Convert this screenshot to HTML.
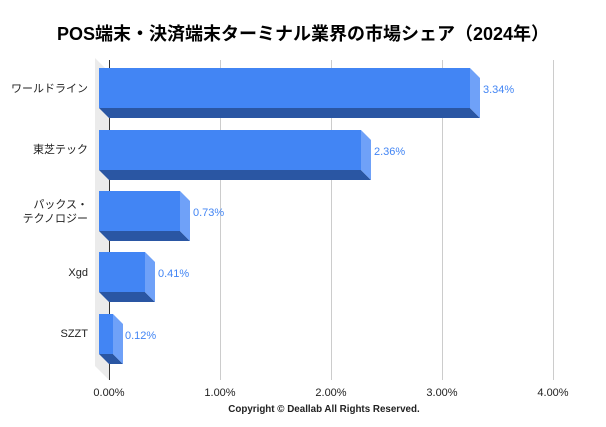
<!DOCTYPE html>
<html><head><meta charset="utf-8"><style>
body{margin:0;background:#fff;}
svg text{font-family:"Liberation Sans","Noto Sans CJK JP",sans-serif;}
</style></head><body>
<svg width="606" height="422" xmlns="http://www.w3.org/2000/svg">
<rect width="606" height="422" fill="#fff"/>
<text x="303" y="40" text-anchor="middle" font-size="18" font-weight="bold" fill="#000">POS端末・決済端末ターミナル業界の市場シェア（2024年）</text>
<polygon points="95,58 109,72 109,380 95,366" fill="#ebebeb"/>
<g stroke="#ccc" stroke-width="1">
<line x1="220.5" y1="60" x2="220.5" y2="380"/>
<line x1="331.5" y1="60" x2="331.5" y2="380"/>
<line x1="442.5" y1="60" x2="442.5" y2="380"/>
<line x1="553.5" y1="60" x2="553.5" y2="380"/>
</g>
<line x1="109.5" y1="60" x2="109.5" y2="380" stroke="#333" stroke-width="1"/>
<g id="bars">
<polygon points="99,108 470,108 480,118 109,118" fill="#2a56a3"/>
<polygon points="470,68 480,78 480,118 470,108" fill="#6fa1f8"/>
<rect x="99" y="68" width="371" height="40" fill="#4285f4"/>
<polygon points="99,170 361,170 371,180 109,180" fill="#2a56a3"/>
<polygon points="361,130 371,140 371,180 361,170" fill="#6fa1f8"/>
<rect x="99" y="130" width="262" height="40" fill="#4285f4"/>
<polygon points="99,231 180,231 190,241 109,241" fill="#2a56a3"/>
<polygon points="180,191 190,201 190,241 180,231" fill="#6fa1f8"/>
<rect x="99" y="191" width="81" height="40" fill="#4285f4"/>
<polygon points="99,292 145,292 155,302 109,302" fill="#2a56a3"/>
<polygon points="145,252 155,262 155,302 145,292" fill="#6fa1f8"/>
<rect x="99" y="252" width="46" height="40" fill="#4285f4"/>
<polygon points="99,354 113,354 123,364 109,364" fill="#2a56a3"/>
<polygon points="113,314 123,324 123,364 113,354" fill="#6fa1f8"/>
<rect x="99" y="314" width="14" height="40" fill="#4285f4"/>
</g>
<g font-size="11" fill="#4285f4">
<text x="483" y="93">3.34%</text>
<text x="374" y="155">2.36%</text>
<text x="193" y="216">0.73%</text>
<text x="158" y="277">0.41%</text>
<text x="125" y="339">0.12%</text>
</g>
<g font-size="11" fill="#222" text-anchor="end">
<text x="88" y="92">ワールドライン</text>
<text x="88" y="153">東芝テック</text>
<text x="88" y="208">パックス・</text>
<text x="88" y="222">テクノロジー</text>
<text x="88" y="276">Xgd</text>
<text x="88" y="337">SZZT</text>
</g>
<g font-size="11" fill="#222" text-anchor="middle">
<text x="109" y="396">0.00%</text>
<text x="220" y="396">1.00%</text>
<text x="331" y="396">2.00%</text>
<text x="442" y="396">3.00%</text>
<text x="553" y="396">4.00%</text>
</g>
<text x="324" y="412" text-anchor="middle" font-size="9.8" font-weight="bold" fill="#222">Copyright © Deallab All Rights Reserved.</text>
</svg>
</body></html>
